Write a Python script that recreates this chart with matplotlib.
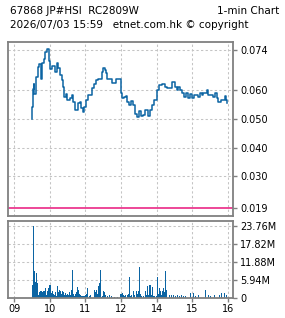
import matplotlib
matplotlib.use("Agg")
import matplotlib.pyplot as plt

# price (1-min, last trade)
price_times = ["09:30", "09:31", "09:32", "09:33", "09:34", "09:37", "09:40", "09:42", "09:45",
               "09:47", "09:50", "09:52", "09:56", "09:59", "10:01", "10:04", "10:09", "10:12",
               "10:14", "10:17", "10:21", "10:22", "10:24", "10:27", "10:29", "10:34", "10:38",
               "10:39", "10:43", "10:46", "10:48", "10:51", "10:53", "10:56", "10:58", "11:01",
               "11:04", "11:08", "11:11", "11:15", "11:18", "11:21", "11:25", "11:28", "11:30",
               "11:33", "11:35", "11:36", "11:41", "11:45", "11:50", "11:52", "11:58", "13:00",
               "13:02", "13:05", "13:08", "13:10", "13:13", "13:17", "13:20", "13:24", "13:27",
               "13:30", "13:34", "13:37", "13:40", "13:45", "13:49", "13:52", "13:56", "14:01",
               "14:04", "14:09", "14:14", "14:17", "14:22", "14:26", "14:27", "14:31", "14:34",
               "14:36", "14:39", "14:43", "14:46", "14:49", "14:53", "14:56", "14:59", "15:03",
               "15:06", "15:10", "15:13", "15:16", "15:18", "15:25", "15:26", "15:31", "15:35",
               "15:38", "15:42", "15:43", "15:48", "15:53", "15:55", "15:57", "15:58"]
prices = [0.050, 0.054, 0.0604, 0.062, 0.0587, 0.0646, 0.068, 0.069, 0.064,
          0.0695, 0.071, 0.0733, 0.0743, 0.070, 0.0674, 0.0684, 0.0663, 0.0695,
          0.0677, 0.0653, 0.0636, 0.0611, 0.0576, 0.0587, 0.0566, 0.0573, 0.0583,
          0.0559, 0.0531, 0.0531, 0.0555, 0.0559, 0.0538, 0.0524, 0.0542, 0.0566,
          0.0583, 0.0583, 0.0608, 0.0622, 0.0636, 0.064, 0.064, 0.0663, 0.0677,
          0.067, 0.066, 0.064, 0.064, 0.0625, 0.0625, 0.064, 0.064, 0.059,
          0.0573, 0.0576, 0.058, 0.0559, 0.0549, 0.0562, 0.0549, 0.0518, 0.0507,
          0.0528, 0.051, 0.0514, 0.0531, 0.051, 0.0531, 0.0549, 0.0566, 0.0601,
          0.0618, 0.0622, 0.0611, 0.0608, 0.0608, 0.0629, 0.0629, 0.061, 0.0601,
          0.061, 0.0601, 0.059, 0.0576, 0.059, 0.0573, 0.0587, 0.0573, 0.0583,
          0.0583, 0.0576, 0.059, 0.0583, 0.059, 0.0601, 0.0583, 0.0583, 0.0576,
          0.059, 0.0573, 0.0559, 0.0566, 0.0566, 0.058, 0.0566, 0.0555]

# volume in millions
vol_times = ["09:30", "09:31", "09:32", "09:34", "09:35", "09:37", "09:39", "09:40", "09:42",
             "09:44", "09:45", "09:47", "09:49", "09:50", "09:52", "09:54", "09:56", "09:57",
             "09:59", "10:01", "10:02", "10:04", "10:06", "10:07", "10:09", "10:11", "10:12",
             "10:14", "10:16", "10:17", "10:19", "10:21", "10:22", "10:24", "10:26", "10:28",
             "10:29", "10:31", "10:33", "10:34", "10:36", "10:38", "10:39", "10:41", "10:43",
             "10:44", "10:46", "10:48", "10:49", "10:51", "10:53", "10:54", "10:56", "10:58",
             "10:59", "11:01", "11:03", "11:04", "11:06", "11:08", "11:15", "11:16", "11:18",
             "11:20", "11:21", "11:23", "11:25", "11:26", "11:28", "11:30", "11:31", "11:33",
             "11:36", "11:40", "11:43", "11:48", "11:53", "11:58", "13:00", "13:02", "13:03",
             "13:05", "13:07", "13:10", "13:12", "13:13", "13:15", "13:17", "13:18", "13:20",
             "13:22", "13:25", "13:27", "13:29", "13:30", "13:32", "13:34", "13:37", "13:40",
             "13:42", "13:44", "13:45", "13:47", "13:49", "13:50", "13:52", "13:54", "13:56",
             "13:59", "14:01", "14:02", "14:04", "14:06", "14:07", "14:09", "14:11", "14:12",
             "14:14", "14:16", "14:21", "14:24", "14:28", "14:31", "14:34", "14:38", "14:41",
             "14:44", "14:48", "14:56", "15:01", "15:05", "15:10", "15:21", "15:26", "15:30",
             "15:37", "15:45", "15:48", "15:53", "15:57"]
volumes = [3.6, 4.2, 23.76, 8.9, 5.3, 8.2, 4.9, 0.9, 2.0,
           2.3, 2.3, 2.0, 2.3, 2.3, 3.2, 0.9, 2.3, 3.2,
           4.2, 4.4, 1.6, 2.3, 1.3, 0.9, 2.0, 0.6, 3.9,
           2.0, 2.6, 2.3, 1.2, 2.3, 2.0, 0.9, 1.6, 0.9,
           1.2, 0.9, 2.0, 0.9, 2.6, 9.2, 1.2, 0.6, 1.3,
           2.0, 3.6, 2.6, 1.2, 0.9, 0.6, 0.8, 0.8, 0.6,
           0.9, 1.2, 3.2, 2.0, 0.6, 0.9, 2.8, 2.0, 2.8,
           1.3, 3.9, 5.0, 9.2, 0.3, 0.6, 2.3, 2.0, 0.9,
           0.6, 0.9, 0.6, 0.3, 0.3, 1.2, 1.3, 1.6, 0.9,
           0.6, 0.9, 0.9, 1.3, 7.0, 0.6, 0.9, 1.3, 2.3,
           0.9, 2.3, 1.2, 2.3, 10.1, 1.2, 0.6, 0.6, 2.3,
           0.9, 3.9, 0.9, 4.2, 4.2, 0.9, 3.6, 0.6, 0.6,
           0.6, 6.8, 1.2, 3.2, 2.3, 0.9, 2.3, 3.3, 2.0,
           8.9, 2.6, 1.1, 0.9, 0.9, 0.6, 0.9, 0.6, 0.9,
           0.6, 0.6, 1.5, 1.5, 0.6, 1.1, 2.6, 0.9, 0.6,
           0.9, 0.9, 1.5, 1.5, 0.9]

ref_price = 0.019
hour_labels = ["09", "10", "11", "12", "14", "15", "16"]
price_ticks = [0.074, 0.060, 0.050, 0.040, 0.030, 0.019]
vol_ticks = [0, 5.94, 11.88, 17.82, 23.76]


def session_min(t):
    # minutes since 09:00 with the lunch hour removed
    h, m = map(int, t.split(":"))
    x = (h - 9) * 60 + m
    if h >= 13:
        x -= 60
    return x


hour_pos = [session_min(h + ":00") for h in hour_labels]
px = [session_min(t) for t in price_times]
vx = [session_min(t) for t in vol_times]

blue = "#0b64a3"
grey = "#808080"
grid_kw = dict(color="#c4c4c4", linestyle=(0, (2.2, 2.2)), linewidth=0.75)
plt.rcParams["font.family"] = "DejaVu Sans"

fig = plt.figure(figsize=(2.85, 3.18), dpi=100)
ax = fig.add_axes([0.0281, 0.3208, 0.7895, 0.5472])
axv = fig.add_axes([0.0281, 0.0629, 0.7895, 0.2421])

ax.step(px, prices, where="post", color=blue, lw=1.1)
ax.axhline(ref_price, color="#e8157a", lw=1.1)
ax.set_ylim(0.01622, 0.07678)

axv.bar(vx, volumes, width=1.3, color=blue, align="edge")
axv.set_ylim(0, 25.45)

for a in (ax, axv):
    a.set_xlim(-10.1, 368.4)
    for s in a.spines.values():
        s.set_color(grey)
        s.set_linewidth(1.3)
    for x in hour_pos:
        a.axvline(x, zorder=0, **grid_kw)
    a.yaxis.tick_right()
    a.tick_params(axis="y", length=3, width=1, color=grey, pad=2, labelsize=7)
    a.tick_params(axis="x", length=3, width=1, color=grey, pad=1, labelsize=7)
    a.set_xticks(hour_pos)

for y in price_ticks[:-1]:
    ax.axhline(y, zorder=0, **grid_kw)
for y in vol_ticks[1:]:
    axv.axhline(y, zorder=0, **grid_kw)

ax.set_yticks(price_ticks)
ax.set_yticklabels(["%.3f" % v for v in price_ticks])
ax.set_xticklabels([])
ax.tick_params(axis="x", length=0)

axv.set_yticks(vol_ticks)
axv.set_yticklabels(["0"] + ["%.2fM" % v for v in vol_ticks[1:]])
axv.set_xticklabels(hour_labels)

fig.text(10 / 285, 1 - 11.5 / 318, "67868 JP#HSI  RC2809W", fontsize=7.5, va="center", ha="left")
fig.text(279 / 285, 1 - 11.5 / 318, "1-min Chart", fontsize=7.5, va="center", ha="right")
fig.text(10 / 285, 1 - 24.5 / 318, "2026/07/03 15:59   etnet.com.hk \u00a9 copyright",
         fontsize=7.5, va="center", ha="left")

fig.savefig("out.png", dpi=100)
plt.close(fig)
